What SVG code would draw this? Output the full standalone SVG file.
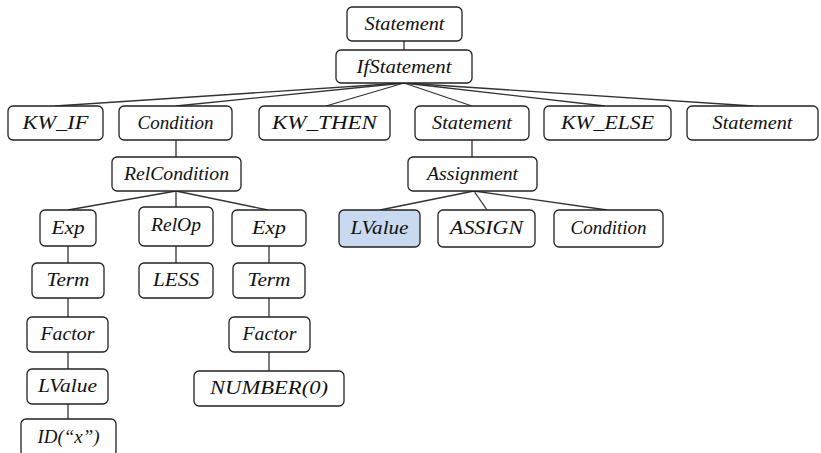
<svg xmlns="http://www.w3.org/2000/svg" width="821" height="453" viewBox="0 0 821 453">
<style>
  .box { fill: #ffffff; stroke: #222222; stroke-width: 1.3; }
  .hl { fill: #c9d9ef; }
  .lbl { font-family: "Liberation Serif", "DejaVu Serif", serif; font-style: italic; font-size: 18.5px; fill: #111111; text-anchor: middle; }
  .edge { stroke: #333333; stroke-width: 1.3; fill: none; }
</style>
<rect width="821" height="453" fill="#ffffff"/>
<g id="connectors">
  <line class="edge" x1="404" y1="41" x2="404" y2="50"/>
  <line class="edge" x1="404" y1="83" x2="55" y2="106"/>
  <line class="edge" x1="404" y1="83" x2="176" y2="106"/>
  <line class="edge" x1="404" y1="83" x2="326" y2="106"/>
  <line class="edge" x1="404" y1="83" x2="472" y2="106"/>
  <line class="edge" x1="404" y1="83" x2="605" y2="106"/>
  <line class="edge" x1="404" y1="83" x2="753" y2="106"/>
  <line class="edge" x1="176" y1="140" x2="176" y2="157"/>
  <line class="edge" x1="472" y1="140" x2="472" y2="157"/>
  <line class="edge" x1="176" y1="191" x2="68" y2="210"/>
  <line class="edge" x1="176" y1="191" x2="176" y2="207"/>
  <line class="edge" x1="176" y1="191" x2="268" y2="210"/>
  <line class="edge" x1="474" y1="191" x2="380" y2="210"/>
  <line class="edge" x1="474" y1="191" x2="487" y2="210"/>
  <line class="edge" x1="474" y1="191" x2="607" y2="210"/>
  <line class="edge" x1="68" y1="246" x2="68" y2="263"/>
  <line class="edge" x1="68" y1="298" x2="68" y2="317"/>
  <line class="edge" x1="68" y1="352" x2="68" y2="369"/>
  <line class="edge" x1="68" y1="404" x2="68" y2="419"/>
  <line class="edge" x1="176" y1="246" x2="176" y2="263"/>
  <line class="edge" x1="269" y1="246" x2="269" y2="263"/>
  <line class="edge" x1="269" y1="298" x2="269" y2="317"/>
  <line class="edge" x1="269" y1="352" x2="269" y2="371"/>
</g>
<g id="n_statement_root"><rect class="box" x="347" y="7" width="115" height="34" rx="5"/><text class="lbl" x="404.5" y="30" textLength="80" lengthAdjust="spacingAndGlyphs">Statement</text></g>
<g id="n_ifstatement"><rect class="box" x="336" y="50" width="136" height="33" rx="5"/><text class="lbl" x="404" y="73" textLength="95" lengthAdjust="spacingAndGlyphs">IfStatement</text></g>
<g id="n_kw_if"><rect class="box" x="8" y="106" width="95" height="34" rx="5"/><text class="lbl" x="55.5" y="129" textLength="66" lengthAdjust="spacingAndGlyphs">KW_IF</text></g>
<g id="n_condition1"><rect class="box" x="119" y="106" width="113" height="34" rx="5"/><text class="lbl" x="175.5" y="129" textLength="76" lengthAdjust="spacingAndGlyphs">Condition</text></g>
<g id="n_kw_then"><rect class="box" x="259" y="106" width="131" height="34" rx="5"/><text class="lbl" x="324.5" y="129" textLength="105" lengthAdjust="spacingAndGlyphs">KW_THEN</text></g>
<g id="n_statement_then"><rect class="box" x="415" y="106" width="114" height="34" rx="5"/><text class="lbl" x="472" y="129" textLength="80" lengthAdjust="spacingAndGlyphs">Statement</text></g>
<g id="n_kw_else"><rect class="box" x="544" y="106" width="127" height="34" rx="5"/><text class="lbl" x="607.5" y="129" textLength="93" lengthAdjust="spacingAndGlyphs">KW_ELSE</text></g>
<g id="n_statement_else"><rect class="box" x="687" y="106" width="131" height="34" rx="5"/><text class="lbl" x="752.5" y="129" textLength="80" lengthAdjust="spacingAndGlyphs">Statement</text></g>
<g id="n_relcondition"><rect class="box" x="112" y="157" width="129" height="34" rx="5"/><text class="lbl" x="176.5" y="180" textLength="105" lengthAdjust="spacingAndGlyphs">RelCondition</text></g>
<g id="n_assignment"><rect class="box" x="408" y="157" width="129" height="34" rx="5"/><text class="lbl" x="472.5" y="180" textLength="91" lengthAdjust="spacingAndGlyphs">Assignment</text></g>
<g id="n_exp1"><rect class="box" x="40" y="210" width="56" height="36" rx="5"/><text class="lbl" x="68" y="234" textLength="33" lengthAdjust="spacingAndGlyphs">Exp</text></g>
<g id="n_relop"><rect class="box" x="139" y="207" width="74" height="39" rx="5"/><text class="lbl" x="176" y="231" textLength="50" lengthAdjust="spacingAndGlyphs">RelOp</text></g>
<g id="n_exp2"><rect class="box" x="232" y="210" width="74" height="36" rx="5"/><text class="lbl" x="269" y="234" textLength="34" lengthAdjust="spacingAndGlyphs">Exp</text></g>
<g id="n_lvalue_hl"><rect class="box hl" x="339" y="210" width="81" height="37" rx="5"/><text class="lbl" x="379.5" y="234" textLength="58" lengthAdjust="spacingAndGlyphs">LValue</text></g>
<g id="n_assign"><rect class="box" x="438" y="210" width="97" height="37" rx="5"/><text class="lbl" x="486.5" y="234" textLength="73" lengthAdjust="spacingAndGlyphs">ASSIGN</text></g>
<g id="n_condition2"><rect class="box" x="554" y="210" width="109" height="37" rx="5"/><text class="lbl" x="608.5" y="234" textLength="76" lengthAdjust="spacingAndGlyphs">Condition</text></g>
<g id="n_term1"><rect class="box" x="32" y="263" width="72" height="35" rx="5"/><text class="lbl" x="68" y="286" textLength="43" lengthAdjust="spacingAndGlyphs">Term</text></g>
<g id="n_less"><rect class="box" x="139" y="263" width="74" height="35" rx="5"/><text class="lbl" x="176" y="286" textLength="46" lengthAdjust="spacingAndGlyphs">LESS</text></g>
<g id="n_term2"><rect class="box" x="233" y="263" width="72" height="35" rx="5"/><text class="lbl" x="269" y="286" textLength="43" lengthAdjust="spacingAndGlyphs">Term</text></g>
<g id="n_factor1"><rect class="box" x="27" y="317" width="81" height="35" rx="5"/><text class="lbl" x="67.5" y="340" textLength="54" lengthAdjust="spacingAndGlyphs">Factor</text></g>
<g id="n_factor2"><rect class="box" x="229" y="317" width="81" height="35" rx="5"/><text class="lbl" x="269.5" y="340" textLength="54" lengthAdjust="spacingAndGlyphs">Factor</text></g>
<g id="n_lvalue"><rect class="box" x="27" y="369" width="81" height="35" rx="5"/><text class="lbl" x="67.5" y="392" textLength="59" lengthAdjust="spacingAndGlyphs">LValue</text></g>
<g id="n_number"><rect class="box" x="194" y="371" width="150" height="35" rx="5"/><text class="lbl" x="269" y="394" textLength="118" lengthAdjust="spacingAndGlyphs">NUMBER(0)</text></g>
<g id="n_id"><rect class="box" x="21" y="419" width="95" height="37" rx="5"/><text class="lbl" x="68.5" y="443" textLength="62" lengthAdjust="spacingAndGlyphs">ID(“x”)</text></g>
</svg>
